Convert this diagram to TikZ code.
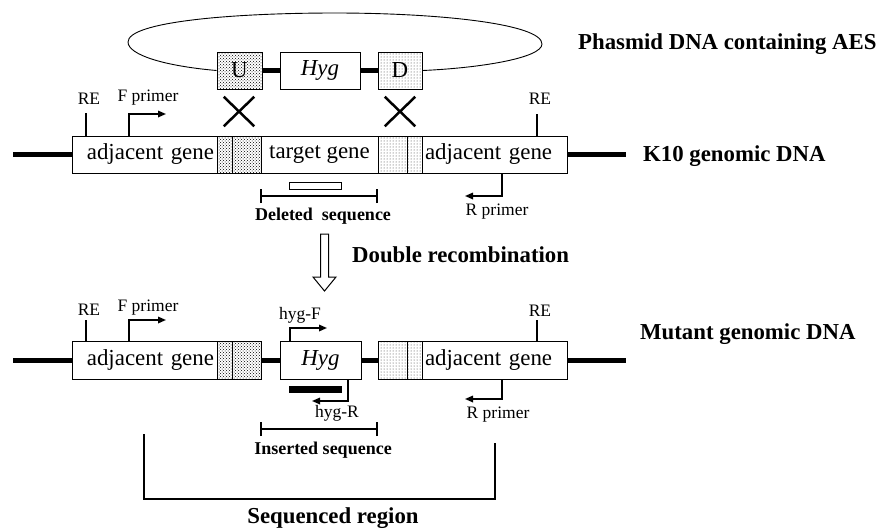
\documentclass[tikz,border=0pt]{standalone}
\usepackage{fontspec}
\setmainfont{Liberation Serif}
\usetikzlibrary{arrows.meta,patterns,shapes.misc}
\begin{document}
\begin{tikzpicture}[x=1pt,y=-1pt,
  box/.style={draw,line width=1pt,fill=white,minimum height=37pt,inner sep=0pt,font=\fontsize{22.9}{24}\selectfont},
  ustip/.style={draw,line width=1pt,pattern=crosshatch dots,pattern color=black,minimum height=37pt,inner sep=0pt,font=\fontsize{22.9}{24}\selectfont},
  dstip/.style={draw,line width=1pt,pattern=dots,pattern color=black!80,minimum height=37pt,inner sep=0pt,font=\fontsize{22.9}{24}\selectfont},
  dna/.style={line width=5pt},
  retick/.style={line width=2pt},
  primer/.style={line width=1.6pt,-{Triangle[length=8pt,width=6.5pt]}},
  small/.style={font=\fontsize{17.5}{18}\selectfont,inner sep=0pt},
  bigb/.style={font=\fontsize{22.8}{24}\selectfont\bfseries,inner sep=0pt},
  midb/.style={font=\fontsize{18}{20}\selectfont\bfseries,inner sep=0pt},
  xmark/.style={cross out,draw,line width=2.5pt,minimum width=28pt,minimum height=27pt,inner sep=0pt},
  thin/.style={line width=1.3pt},
]
\useasboundingbox (0,0) rectangle (879,531);

% ---------------- plasmid ----------------
\coordinate (pl) at (128,42);
\coordinate (pt) at (335,13);
\coordinate (pr) at (542,44);
\node[ustip,minimum width=45pt] (U) at (239.5,70.5) {U};
\node[box,minimum width=80pt] (PH) at (320,70.5) {\itshape Hyg};
\node[dstip,minimum width=44pt] (D) at (400,70.5) {D};
\draw[line width=0.9pt] (U.west) .. controls (165,66) and (128,55) .. (pl)
  .. controls (128,22) and (230,13) .. (pt)
  .. controls (440,13) and (542,24) .. (pr)
  .. controls (542,58) and (480,68) .. (D.east);
\draw[dna] (U.east) -- (PH.west);
\draw[dna] (PH.east) -- (D.west);
\node[bigb,anchor=west] (tplasmid) at (578,44) {Phasmid DNA containing AES};

\node[xmark] (x1) at (239,111.5) {};
\node[xmark] (x2) at (400,111.5) {};

% ---------------- K10 genomic DNA ----------------
\coordinate (kL) at (13,154.5);
\coordinate (kR) at (626,154.5);
\node[box,text width=139pt,inner xsep=3pt,align=right] (ka1) at (144.5,154.5) {adjacent gene};
\node[ustip,minimum width=15pt] (ks1) at (224.5,154.5) {};
\node[ustip,minimum width=29pt] (ks2) at (246.5,154.5) {};
\node[box,minimum width=117pt] (kt) at (319.5,154.5) {target gene};
\node[dstip,minimum width=29pt] (ks3) at (392.5,154.5) {};
\node[dstip,minimum width=15pt] (ks4) at (414.5,154.5) {};
\node[box,text width=139pt,inner xsep=3pt,align=left] (ka2) at (494.5,154.5) {adjacent gene};
\draw[dna] (kL) -- (ka1.west);
\draw[dna] (ka2.east) -- (kR);
\node[bigb,anchor=west] (tk10) at (643,156) {K10 genomic DNA};

% RE sites and primers (K10)
\node[small] (kre1) at (89,99) {RE};
\node[small] (kre2) at (540,99) {RE};
\coordinate (kre1a) at (86,113);
\coordinate (kre2a) at (537,114);
\draw[retick] (kre1a) -- (kre1a |- ka1.north);
\draw[retick] (kre2a) -- (kre2a |- ka2.north);
\node[small] (kfp) at (148,98) {F primer};
\coordinate (kfpa) at (129,136);
\draw[primer] (kfpa) -- ++(0,-22) -- ++(37,0);
\coordinate (krpa) at (502,173);
\draw[primer] (krpa) -- ++(0,23) -- ++(-37,0);
\node[small] (krp) at (497,212) {R primer};

% deleted sequence
\node[draw,line width=1pt,minimum width=52pt,minimum height=7pt,inner sep=0pt] (del) at (315,185.5) {};
\coordinate (db1) at (261,196);
\coordinate (db2) at (377,196);
\draw[thin] (db1) -- (db2);
\draw[thin] ([yshift=-7pt]db1) -- ([yshift=7pt]db1);
\draw[thin] ([yshift=-7pt]db2) -- ([yshift=7pt]db2);
\node[midb] (tdel) at (323,216) {Deleted\ \ sequence};

% ---------------- double recombination arrow ----------------
\draw[line width=1pt,fill=white] (320.5,234) -- (328.5,234) -- (328.5,277) -- (336,277)
  -- (324.5,291) -- (313,277) -- (320.5,277) -- cycle;
\node[bigb,anchor=west] (tdr) at (352,255) {Double recombination};

% ---------------- Mutant genomic DNA ----------------
\coordinate (mL) at (13,360);
\coordinate (mR) at (626,360);
\node[box,minimum height=38pt,text width=139pt,inner xsep=3pt,align=right] (ma1) at (144.5,360) {adjacent gene};
\node[ustip,minimum height=38pt,minimum width=15pt] (ms1) at (224.5,360) {};
\node[ustip,minimum height=38pt,minimum width=29pt] (ms2) at (246.5,360) {};
\node[box,minimum height=38pt,minimum width=81pt] (mh) at (320.5,360) {\itshape Hyg};
\node[dstip,minimum height=38pt,minimum width=29pt] (ms3) at (392.5,360) {};
\node[dstip,minimum height=38pt,minimum width=15pt] (ms4) at (414.5,360) {};
\node[box,minimum height=38pt,text width=139pt,inner xsep=3pt,align=left] (ma2) at (494.5,360) {adjacent gene};
\draw[dna] (mL) -- (ma1.west);
\draw[dna] (ms2.east) -- (mh.west);
\draw[dna] (mh.east) -- (ms3.west);
\draw[dna] (ma2.east) -- (mR);
\node[bigb,anchor=west] (tmut) at (640,334) {Mutant genomic DNA};

% RE sites and primers (mutant)
\node[small] (mre1) at (89,309.5) {RE};
\node[small] (mre2) at (540,311) {RE};
\coordinate (mre1a) at (86,320);
\coordinate (mre2a) at (537,320);
\draw[retick] (mre1a) -- (mre1a |- ma1.north);
\draw[retick] (mre2a) -- (mre2a |- ma2.north);
\node[small] (mfp) at (148,308) {F primer};
\coordinate (mfpa) at (129,341);
\draw[primer] (mfpa) -- ++(0,-21) -- ++(37,0);
\coordinate (mrpa) at (502,379);
\draw[primer] (mrpa) -- ++(0,20) -- ++(-37,0);
\node[small] (mrp) at (498,415) {R primer};

% hyg primers
\node[small] (thf) at (300,315) {hyg-F};
\coordinate (hfa) at (290,341);
\draw[primer] (hfa) -- ++(0,-13) -- ++(37,0);
\node[fill=black,minimum width=53pt,minimum height=7pt,inner sep=0pt] (bar) at (315.5,389.5) {};
\coordinate (hra) at (348,379);
\draw[primer] (hra) -- ++(0,22) -- ++(-36,0);
\node[small] (thr) at (337,413) {hyg-R};

% inserted sequence
\coordinate (ib1) at (261,429);
\coordinate (ib2) at (377,429);
\draw[thin] (ib1) -- (ib2);
\draw[thin] ([yshift=-7pt]ib1) -- ([yshift=7pt]ib1);
\draw[thin] ([yshift=-7pt]ib2) -- ([yshift=7pt]ib2);
\node[midb] (tins) at (323,450) {Inserted sequence};

% sequenced region
\coordinate (sq1) at (144,434);
\coordinate (sq2) at (495,443);
\draw[line width=1.6pt] (sq1) -- (sq1 |- 0,499) -- (sq2 |- 0,499) -- (sq2);
\node[bigb] (tseq) at (333,518) {Sequenced region};
\end{tikzpicture}
\end{document}
